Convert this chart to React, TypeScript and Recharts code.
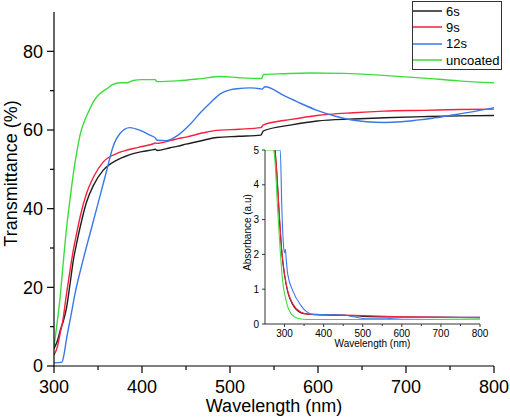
import { Legend, Line, LineChart, XAxis, YAxis } from "recharts";

const FONT = '"Liberation Sans", Arial, sans-serif';

// main plot: transmittance vs wavelength
const wl6s = [300, 304, 307, 310, 314, 318, 322, 326, 330, 337, 345, 356, 371, 380, 390, 400, 413, 415, 417, 432, 441, 450, 470, 485, 510, 535, 538, 570, 599, 640, 675, 720, 760, 800];
const t6s = [4.5, 6.5, 9, 11, 14.5, 20.5, 26.9, 31.5, 35.6, 41.7, 46, 49.8, 52.3, 53.2, 54, 54.5, 55, 55.1, 54.8, 55.5, 55.9, 56.4, 57.4, 58.1, 58.4, 58.7, 59.8, 61.3, 62.3, 62.8, 63.1, 63.4, 63.6, 63.7];

const wl9s = [300, 304, 307, 310, 314, 318, 322, 326, 330, 337, 345, 356, 371, 380, 390, 400, 413, 415, 417, 432, 441, 450, 470, 485, 510, 535, 538, 570, 599, 640, 675, 720, 760, 800];
const t9s = [2.8, 5, 8.3, 11.5, 18, 24, 29.5, 34, 38.2, 43.9, 48.1, 51.9, 54, 54.7, 55.3, 55.8, 56.5, 56.7, 56.6, 57.3, 57.8, 58.2, 59.3, 59.9, 60.2, 60.6, 61.3, 62.7, 63.7, 64.4, 64.8, 65.0, 65.2, 65.3];

const wl12s = [300, 305, 309, 311, 314, 319, 324, 333, 343, 352, 360, 367, 375, 386, 398, 409, 415, 417, 428, 441, 455, 466, 478, 489, 500, 508, 523, 534, 536, 540, 561, 580, 599, 620, 637, 655, 675, 695, 712, 730, 750, 775, 800];
const t12s = [0.8, 0.85, 1.0, 2.5, 6.6, 12.5, 18.5, 26.9, 35.4, 43, 49.8, 55.7, 59.1, 60.6, 59.9, 58.7, 58, 57.4, 57.3, 58.7, 61.5, 64.3, 67, 69.2, 70.2, 70.5, 70.7, 70.5, 70.4, 71, 68.8, 66.8, 65, 63.5, 62.6, 62.1, 61.9, 62.1, 62.5, 63, 63.7, 64.6, 65.7];

const wlUncoated = [300, 303, 307, 310, 314, 318, 322, 326, 330, 335, 340, 345, 352, 360, 367, 375, 383, 390, 400, 413, 415, 417, 440, 465, 489, 510, 534, 536, 538, 560, 591, 630, 674, 720, 760, 800];
const tUncoated = [4.9, 10, 17.6, 25, 34.5, 42, 48.9, 54.5, 59.1, 62.5, 65, 67.3, 69.2, 70.5, 71.6, 72, 72, 72.6, 72.8, 72.8, 72.8, 72.3, 72.5, 73, 73.6, 73.3, 73.1, 73.1, 74.1, 74.3, 74.5, 74.4, 73.9, 73.2, 72.5, 72.0];

// inset: absorbance vs wavelength
const awl6s = [276, 280, 287, 293, 300, 308, 321, 342, 360, 400, 450, 500, 600, 700, 800];
const a6s = [5, 4.4, 3.0, 2.05, 1.4, 0.92, 0.55, 0.32, 0.28, 0.26, 0.25, 0.22, 0.2, 0.19, 0.18];
const awl9s = [275, 279, 287, 293, 300, 308, 321, 342, 358, 400, 450, 500, 600, 700, 800];
const a9s = [5, 4.5, 3.1, 2.1, 1.44, 0.96, 0.58, 0.34, 0.29, 0.27, 0.26, 0.24, 0.21, 0.2, 0.19];
const awl12s = [276, 289, 293, 297, 300, 302, 304, 308, 321, 342, 358, 375, 400, 450, 480, 510, 550, 600, 700, 800];
const a12s = [5, 5, 3.37, 2.3, 2.05, 2.15, 1.9, 1.44, 0.96, 0.53, 0.34, 0.27, 0.27, 0.26, 0.2, 0.15, 0.15, 0.18, 0.19, 0.19];
const awlUncoated = [250, 272, 276, 282, 289, 295, 304, 317, 334, 360, 450, 600, 800];
const aUncoated = [5, 5, 4.6, 3.37, 2.1, 1.25, 0.67, 0.29, 0.16, 0.13, 0.13, 0.13, 0.14];

const seriesNames = ["6s", "9s", "12s", "uncoated"];
const seriesColors = ["#1e1e1e", "#f5203c", "#3a78e8", "#3ddc3d"];

const mainXTicks = [300, 350, 400, 450, 500, 550, 600, 650, 700, 750, 800];
const mainYTicks = [0, 10, 20, 30, 40, 50, 60, 70, 80];
const insetXTicks = [300, 350, 400, 450, 500, 550, 600, 650, 700, 750, 800];
const insetYTicks = [0, 1, 2, 3, 4, 5];

const zip = (xs: number[], ys: number[]) => xs.map((x, i) => ({ x, y: ys[i] }));

const mainSeries = [
  zip(wl6s, t6s),
  zip(wl9s, t9s),
  zip(wl12s, t12s),
  zip(wlUncoated, tUncoated),
];
const insetSeries = [
  zip(awl6s, a6s),
  zip(awl9s, a9s),
  zip(awl12s, a12s),
  zip(awlUncoated, aUncoated),
];

const MainXTick = ({ x, y, payload }: any) => {
  const major = payload.value % 100 === 0;
  return (
    <g>
      <line x1={x} x2={x} y1={y} y2={y + (major ? 7 : 4)} stroke="#000" strokeWidth={1.2} />
      {major && (
        <text x={x} y={y + 27} textAnchor="middle" fontSize={18} fontFamily={FONT} fill="#000">
          {payload.value}
        </text>
      )}
    </g>
  );
};

const MainYTick = ({ x, y, payload }: any) => {
  const major = payload.value % 20 === 0;
  return (
    <g>
      <line x1={x - (major ? 7 : 4)} x2={x} y1={y} y2={y} stroke="#000" strokeWidth={1.2} />
      {major && (
        <text x={x - 11} y={y} dy="0.35em" textAnchor="end" fontSize={18} fontFamily={FONT} fill="#000">
          {payload.value}
        </text>
      )}
    </g>
  );
};

const InsetXTick = ({ x, y, payload }: any) => {
  const major = payload.value % 100 === 0;
  return (
    <g>
      <line x1={x} x2={x} y1={y} y2={y + (major ? 3 : 2)} stroke="#333" />
      {major && (
        <text x={x} y={y + 13} textAnchor="middle" fontSize={10} fontFamily={FONT} fill="#000">
          {payload.value}
        </text>
      )}
    </g>
  );
};

const InsetYTick = ({ x, y, payload }: any) => (
  <g>
    <line x1={x - 3} x2={x} y1={y} y2={y} stroke="#333" />
    <text x={x - 6} y={y} dy="0.35em" textAnchor="end" fontSize={10} fontFamily={FONT} fill="#000">
      {payload.value}
    </text>
  </g>
);

// legend keeps the series order of the original figure
const LegendBox = () => (
  <div
    style={{
      border: "1px solid #333",
      background: "#fff",
      width: 88,
      padding: "1px 0",
      fontFamily: FONT,
      fontSize: 13,
      color: "#000",
      lineHeight: 1,
    }}
  >
    {seriesNames.map((name, i) => (
      <div key={name} style={{ display: "flex", alignItems: "center", height: 16.3 }}>
        <svg width={32} height={4} style={{ display: "block" }}>
          <line x1={0} x2={29} y1={2} y2={2} stroke={seriesColors[i]} strokeWidth={1.5} />
        </svg>
        <span style={{ marginLeft: 1 }}>{name}</span>
      </div>
    ))}
  </div>
);

export default function App() {
  return (
    <div style={{ position: "absolute", left: 0, top: 0, width: 510, height: 417, background: "#fff" }}>
      <LineChart width={510} height={417} margin={{ top: 12, right: 16, bottom: 0, left: 0 }}>
        <XAxis
          type="number"
          dataKey="x"
          domain={[300, 800]}
          ticks={mainXTicks}
          interval={0}
          height={51}
          tickSize={0}
          tickMargin={0}
          tickLine={false}
          axisLine={{ stroke: "#000", strokeWidth: 1.2 }}
          tick={(props: any) => <MainXTick {...props} />}
          allowDataOverflow
          label={{
            value: "Wavelength (nm)",
            position: "insideBottom",
            offset: 5,
            fill: "#000",
            fontSize: 18,
            fontFamily: FONT,
          }}
        />
        <YAxis
          type="number"
          domain={[0, 90]}
          ticks={mainYTicks}
          interval={0}
          width={54}
          tickSize={0}
          tickMargin={0}
          tickLine={false}
          axisLine={{ stroke: "#000", strokeWidth: 1.2 }}
          tick={(props: any) => <MainYTick {...props} />}
          allowDataOverflow
          label={{
            content: () => (
              <text
                x={16.5}
                y={173.5}
                transform="rotate(-90, 16.5, 173.5)"
                textAnchor="middle"
                fontSize={18}
                fontFamily={FONT}
                fill="#000"
              >
                Transmittance (%)
              </text>
            ),
          }}
        />
        <Legend
          layout="vertical"
          align="center"
          verticalAlign="middle"
          content={<LegendBox />}
          wrapperStyle={{ left: 412, top: 1, width: 90, height: 69, bottom: "auto", right: "auto" }}
        />
        {mainSeries.map((d, i) => (
          <Line
            key={seriesNames[i]}
            data={d}
            dataKey="y"
            name={seriesNames[i]}
            type="monotone"
            stroke={seriesColors[i]}
            strokeWidth={1.4}
            dot={false}
            activeDot={false}
            isAnimationActive={false}
          />
        ))}
      </LineChart>

      <div style={{ position: "absolute", left: 230, top: 140 }}>
        <LineChart width={260} height={215} margin={{ top: 10, right: 10, bottom: 0, left: 0 }}>
          <XAxis
            type="number"
            dataKey="x"
            domain={[250, 800]}
            ticks={insetXTicks}
            interval={0}
            height={31}
            tickSize={0}
            tickMargin={0}
            tickLine={false}
            axisLine={{ stroke: "#333" }}
            tick={(props: any) => <InsetXTick {...props} />}
            allowDataOverflow
            label={{
              value: "Wavelength (nm)",
              position: "insideBottom",
              offset: 8,
              fill: "#000",
              fontSize: 10,
              fontFamily: FONT,
            }}
          />
          <YAxis
            type="number"
            domain={[0, 5]}
            ticks={insetYTicks}
            interval={0}
            width={35}
            tickSize={0}
            tickMargin={0}
            tickLine={false}
            axisLine={{ stroke: "#333" }}
            tick={(props: any) => <InsetYTick {...props} />}
            allowDataOverflow
            label={{
              content: () => (
                <text
                  x={20.5}
                  y={92.5}
                  transform="rotate(-90, 20.5, 92.5)"
                  textAnchor="middle"
                  fontSize={10}
                  fontFamily={FONT}
                  fill="#000"
                >
                  Absorbance (a.u)
                </text>
              ),
            }}
          />
          {insetSeries.map((d, i) => (
            <Line
              key={seriesNames[i]}
              data={d}
              dataKey="y"
              name={seriesNames[i]}
              type="monotone"
              stroke={seriesColors[i]}
              strokeWidth={1.1}
              dot={false}
              activeDot={false}
              isAnimationActive={false}
            />
          ))}
        </LineChart>
      </div>
    </div>
  );
}
